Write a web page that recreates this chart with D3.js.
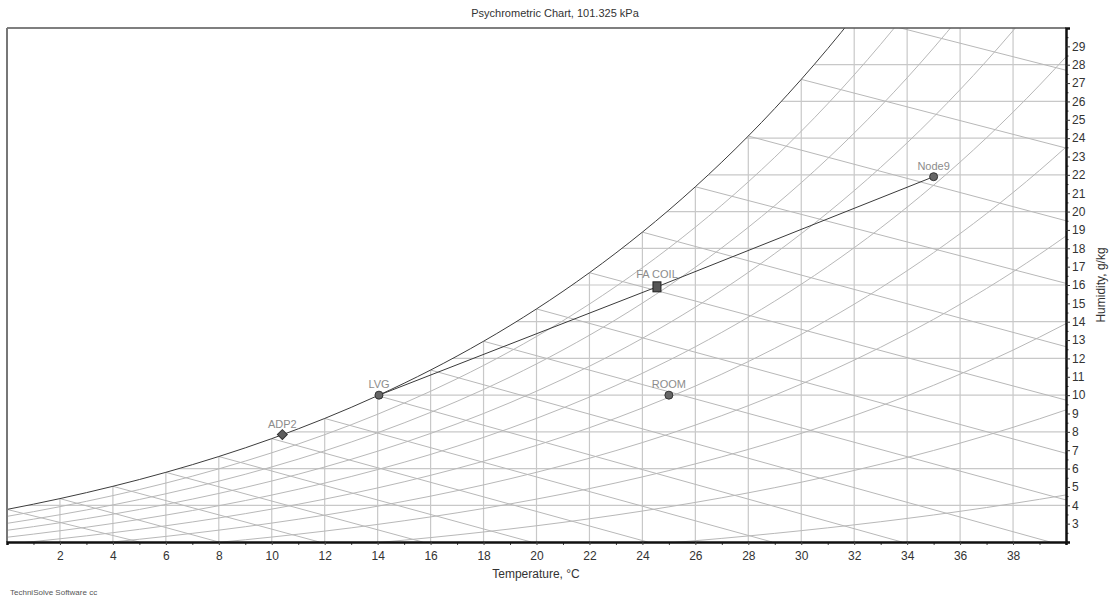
<!DOCTYPE html>
<html>
<head>
<meta charset="utf-8">
<script src="https://cdn.jsdelivr.net/npm/d3@7"></script>
<style>
  body { margin: 0; background: #fff; }
  svg { font-family: "Liberation Sans", Arial, sans-serif; }
</style>
</head>
<body>
<div id="chart"></div>
<script>
// chart data
const pressure = 101.325
const tableTemps = [0, 1, 2, 3, 4, 5, 6, 7, 8, 9, 10, 11, 12, 13, 14, 15, 16, 17, 18, 19, 20,
    21, 22, 23, 24, 25, 26, 27, 28, 29, 30, 31, 32, 33, 34, 35, 36, 37, 38, 39, 40]
// saturation vapour pressure, kPa
const satPressure = [0.6112, 0.6571, 0.7060, 0.7581, 0.8135, 0.8725, 0.9353, 1.0020, 1.0729, 1.1481,
    1.2280, 1.3128, 1.4026, 1.4979, 1.5987, 1.7055, 1.8185, 1.9380, 2.0643, 2.1978,
    2.3388, 2.4877, 2.6447, 2.8104, 2.9850, 3.1690, 3.3629, 3.5670, 3.7818, 4.0078,
    4.2455, 4.4953, 4.7578, 5.0335, 5.3229, 5.6267, 5.9453, 6.2795, 6.6298, 6.9969, 7.3814]
const rhLevels = [0.1, 0.2, 0.3, 0.4, 0.5, 0.6, 0.7, 0.8, 0.9]

// wet bulb lines: start on saturation at wetBulbTemps, end where they leave the plot
const wetBulbTemps = [0, 2, 4, 6, 8, 10, 12, 14, 16, 18, 20, 22, 24, 26, 28, 30, 32]
const wetBulbEndT = [5.0, 8.0, 11.8, 15.7, 19.8, 24.2, 28.9, 33.8, 39.4, 40, 40, 40, 40, 40, 40, 40, 40]
const wetBulbEndW = [2, 2, 2, 2, 2, 2, 2, 2, 2, 4.29, 6.83, 9.73, 12.64, 16.09, 19.5, 23.46, 27.7]

const nodeNames = ["ADP2", "LVG", "FA COIL", "ROOM", "Node9"]
const nodeTemps = [10.4, 14.05, 24.55, 25.0, 35.0]
const nodeHumidity = [7.85, 10.0, 15.9, 10.0, 21.9]
const nodeShapes = ["diamond", "circle", "square", "circle", "circle"]
const processPath = ["LVG", "FA COIL", "Node9"]

const xTicks = [2, 4, 6, 8, 10, 12, 14, 16, 18, 20, 22, 24, 26, 28, 30, 32, 34, 36, 38]
const yTicks = [3, 4, 5, 6, 7, 8, 9, 10, 11, 12, 13, 14, 15, 16, 17, 18, 19, 20, 21, 22,
    23, 24, 25, 26, 27, 28, 29]
const xGrid = [2, 4, 6, 8, 10, 12, 14, 16, 18, 20, 22, 24, 26, 28, 30, 32, 34, 36, 38]
const yGrid = [4, 6, 8, 10, 12, 14, 16, 18, 20, 22, 24, 26, 28]

const width = 1110
const height = 601
const margin = { top: 28, left: 7, bottom: 59, right: 44 }
const iwidth = width - margin.left - margin.right
const iheight = height - margin.top - margin.bottom

const humidity = p => 622 * p / (pressure - p)

const svg = d3.select("#chart").append("svg")
    .attr("width", width)
    .attr("height", height)

const x = d3.scaleLinear().domain([0, 40]).range([0, iwidth])
const y = d3.scaleLinear().domain([2, 30]).range([iheight, 0])

const defs = svg.append("defs")
defs.append("clipPath").attr("id", "plot-clip")
    .append("rect").attr("width", iwidth).attr("height", iheight)

const satPoints = tableTemps.map((t, i) => [t, humidity(satPressure[i])])

defs.append("clipPath").attr("id", "sat-clip")
    .append("path")
    .attr("d", d3.area()
        .x(d => x(d[0]))
        .y0(iheight)
        .y1(d => y(d[1]))
        .curve(d3.curveMonotoneX)(satPoints))

const g = svg.append("g")
    .attr("transform", `translate(${margin.left}, ${margin.top})`)

const plot = g.append("g").attr("clip-path", "url(#plot-clip)")
const under = plot.append("g").attr("clip-path", "url(#sat-clip)")

// grid below saturation
under.append("g")
    .selectAll("line")
    .data(xGrid)
    .join("line")
    .attr("x1", d => x(d)).attr("x2", d => x(d))
    .attr("y1", 0).attr("y2", iheight)
    .attr("stroke", "#c8c8c8")
    .attr("stroke-width", 1.2)

under.append("g")
    .selectAll("line")
    .data(yGrid)
    .join("line")
    .attr("x1", 0).attr("x2", iwidth)
    .attr("y1", d => y(d)).attr("y2", d => y(d))
    .attr("stroke", "#c8c8c8")
    .attr("stroke-width", 1.2)

const line = d3.line()
    .x(d => x(d[0]))
    .y(d => y(d[1]))
    .curve(d3.curveMonotoneX)

// relative humidity curves
plot.append("g")
    .selectAll("path")
    .data(rhLevels)
    .join("path")
    .attr("d", rh => line(tableTemps.map((t, i) => [t, humidity(rh * satPressure[i])])))
    .attr("fill", "none")
    .attr("stroke", "#b8b8b8")
    .attr("stroke-width", 1)

// wet bulb lines
plot.append("g")
    .selectAll("line")
    .data(wetBulbTemps)
    .join("line")
    .attr("x1", d => x(d))
    .attr("y1", d => y(humidity(satPressure[tableTemps.indexOf(d)])))
    .attr("x2", (d, i) => x(wetBulbEndT[i]))
    .attr("y2", (d, i) => y(wetBulbEndW[i]))
    .attr("stroke", "#b8b8b8")
    .attr("stroke-width", 1)

// saturation curve
plot.append("path")
    .attr("d", line(satPoints))
    .attr("fill", "none")
    .attr("stroke", "#3c3c3c")
    .attr("stroke-width", 1)

// process line
plot.append("path")
    .attr("d", d3.line()
        .x(d => x(nodeTemps[nodeNames.indexOf(d)]))
        .y(d => y(nodeHumidity[nodeNames.indexOf(d)]))(processPath))
    .attr("fill", "none")
    .attr("stroke", "#3a3a3a")
    .attr("stroke-width", 1)

// frame
g.append("line")
    .attr("x1", 0).attr("x2", iwidth).attr("y1", 0).attr("y2", 0)
    .attr("stroke", "#555").attr("stroke-width", 1.5)
g.append("line")
    .attr("x1", 0).attr("x2", 0).attr("y1", 0).attr("y2", iheight)
    .attr("stroke", "#777").attr("stroke-width", 2)

// axes
const xMinor = g.append("g")
    .attr("transform", `translate(0, ${iheight})`)
    .call(d3.axisBottom(x).tickValues(d3.range(1, 40, 2)).tickSize(3).tickFormat(""))
xMinor.select(".domain").remove()
xMinor.selectAll("line").attr("stroke", "#444")

const xAxis = g.append("g")
    .attr("transform", `translate(0, ${iheight})`)
    .call(d3.axisBottom(x).tickValues(xTicks).tickSize(3).tickPadding(6))
xAxis.select(".domain").attr("stroke", "#111").attr("stroke-width", 2.5)
xAxis.selectAll("line").attr("stroke", "#444")
xAxis.selectAll("text").attr("font-size", 12).attr("fill", "#333")
    .attr("font-family", "\"Liberation Sans\", Arial, sans-serif")

const yMinor = g.append("g")
    .attr("transform", `translate(${iwidth}, 0)`)
    .call(d3.axisRight(y).tickValues(d3.range(2.5, 30, 1)).tickSize(2.5).tickFormat(""))
yMinor.select(".domain").remove()
yMinor.selectAll("line").attr("stroke", "#333")

const yAxis = g.append("g")
    .attr("transform", `translate(${iwidth}, 0)`)
    .call(d3.axisRight(y).tickValues(yTicks).tickSize(4).tickPadding(2))
yAxis.select(".domain").attr("stroke", "#111").attr("stroke-width", 2.5)
yAxis.selectAll("line").attr("stroke", "#333")
yAxis.selectAll("text").attr("font-size", 12).attr("fill", "#333")
    .attr("font-family", "\"Liberation Sans\", Arial, sans-serif")

// nodes
const nodes = g.append("g")
    .selectAll("g")
    .data(nodeNames)
    .join("g")
    .attr("transform", (d, i) => `translate(${x(nodeTemps[i])}, ${y(nodeHumidity[i])})`)

nodes.each(function (d, i) {
    const node = d3.select(this)
    if (nodeShapes[i] === "square") {
        node.append("rect")
            .attr("x", -4).attr("y", -5).attr("width", 8).attr("height", 10)
            .attr("fill", "#555").attr("stroke", "#222")
    } else if (nodeShapes[i] === "diamond") {
        node.append("rect")
            .attr("x", -3.5).attr("y", -3.5).attr("width", 7).attr("height", 7)
            .attr("transform", "rotate(45)")
            .attr("fill", "#5e5e5e").attr("stroke", "#333")
    } else {
        node.append("circle")
            .attr("r", 4)
            .attr("fill", "#666").attr("stroke", "#333")
    }
})

nodes.append("text")
    .attr("y", d => d === "FA COIL" ? -9 : -7)
    .attr("text-anchor", "middle")
    .attr("font-size", 11)
    .attr("fill", "#8c8c8c")
    .text(d => d)

// titles
svg.append("text")
    .attr("x", 555).attr("y", 17)
    .attr("text-anchor", "middle")
    .attr("font-size", 11)
    .attr("fill", "#333")
    .text("Psychrometric Chart, 101.325 kPa")

svg.append("text")
    .attr("x", 536).attr("y", 578)
    .attr("text-anchor", "middle")
    .attr("font-size", 12)
    .attr("fill", "#333")
    .text("Temperature, °C")

svg.append("text")
    .attr("transform", "translate(1105, 285) rotate(-90)")
    .attr("text-anchor", "middle")
    .attr("font-size", 12)
    .attr("fill", "#333")
    .text("Humidity, g/kg")

svg.append("text")
    .attr("x", 10).attr("y", 595)
    .attr("font-size", 8)
    .attr("fill", "#555")
    .text("TechniSolve Software cc")
</script>
</body>
</html>
